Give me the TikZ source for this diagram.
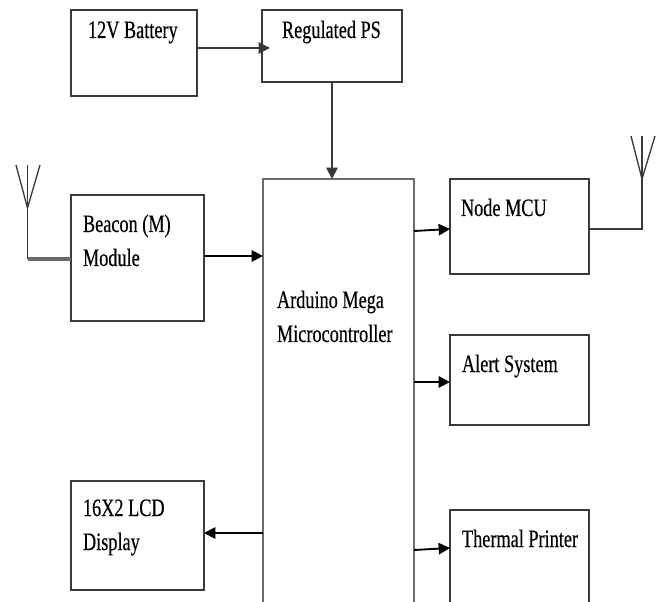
\documentclass[tikz,border=0pt]{standalone}
\usepackage{fontspec}
\setmainfont[FakeStretch=0.73,FakeBold=0.35]{Liberation Serif}
\usetikzlibrary{arrows.meta}
\newdimen\pxu \pxu=0.75pt
% name, left, top, width, height, text left, first baseline, text, line colour
\newcommand\blockbox[9][boxline]{%
  \node[blk,draw=#1,anchor=north west] (#2) at (#3,#4) {%
    \begin{minipage}[t][#6\pxu][t]{#5\pxu}%
      \fontsize{18.75pt}{25.5pt}\selectfont
      \leftskip=#7\pxu
      \vspace*{#8\pxu}\noindent #9\par
    \end{minipage}};}
\definecolor{boxline}{HTML}{3A3A3A}
\definecolor{softline}{HTML}{6A6A6A}
\tikzset{
  blk/.style={rectangle,inner sep=0pt,outer sep=0pt,line width=1.3pt,fill=none},
  link/.style={line width=1.4pt,draw=#1,-{Triangle[length=8.5pt,width=8.5pt]}},
  link/.default=black,
  wire/.style={line width=1.3pt,draw=boxline},
  mast/.style={line width=1pt,draw=boxline}
}
\begin{document}
\begin{tikzpicture}[x=0.75pt,y=-0.75pt]
\useasboundingbox (0,0) rectangle (660,602);
\clip (0,0) rectangle (660,602);
\blockbox{bat}{71}{10}{126}{86}{17}{28}{\smash{12V Battery}}
\blockbox{ps}{262}{10}{140}{72}{20}{28}{\smash{Regulated PS}}
\blockbox{bea}{71}{195}{133}{126}{12}{37}{\smash{Beacon (M)}\\\smash{Module}}
\blockbox[softline]{mega}{263}{179}{151}{470}{14}{129}{\smash{Arduino Mega}\\\smash{Microcontroller}}
\blockbox{mcu}{450}{179}{139}{95}{11}{37}{\smash{Node MCU}}
\blockbox{ale}{450}{335}{139}{90}{12}{37}{\smash{Alert System}}
\blockbox{thp}{450}{510}{139}{120}{12}{37}{\smash{Thermal Printer}}
\blockbox{lcd}{71}{481}{133}{109}{12}{35}{\smash{16X2 LCD}\\\smash{Display}}
\coordinate (r0) at (0,48);
\coordinate (r1) at (0,256);
\coordinate (r2a) at (0,231);
\coordinate (r2b) at (0,229);
\coordinate (r3) at (0,382);
\coordinate (r4a) at (0,550);
\coordinate (r4b) at (0,548);
\coordinate (r5) at (0,533);
\coordinate (r6) at (0,259);
\coordinate (c0) at (332,0);
\coordinate (psin) at (270,0);
\draw[link=boxline] (bat.east |- r0) -- (psin |- r0);
\draw[link=boxline] (c0 |- ps.south) -- (c0 |- mega.north);
\draw[link] (bea.east |- r1) -- (mega.west |- r1);
\draw[link] (mega.east |- r2a) -- (mcu.west |- r2b);
\draw[link] (mega.east |- r3) -- (ale.west |- r3);
\draw[link] (mega.east |- r4a) -- (thp.west |- r4b);
\draw[link] (mega.west |- r5) -- (lcd.east |- r5);
% antennas
\coordinate (la) at (27.5,208);
\coordinate (lb) at (27.5,259);
\coordinate (ra) at (642,179);
\coordinate (rb) at (642,229);
\draw[line width=2.4pt,draw=softline] (bea.west |- lb) -- (lb);
\draw[wire] (lb) -- (la);
\draw[mast] (16,165) -- (la) -- (40,165);
\draw[mast] (27.5,165) -- (la);
\draw[wire] (mcu.east |- rb) -- (rb) -- (ra);
\draw[mast] (631,136) -- (ra) -- (655,136);
\draw[mast] (642,136) -- (ra);
\end{tikzpicture}
\end{document}
